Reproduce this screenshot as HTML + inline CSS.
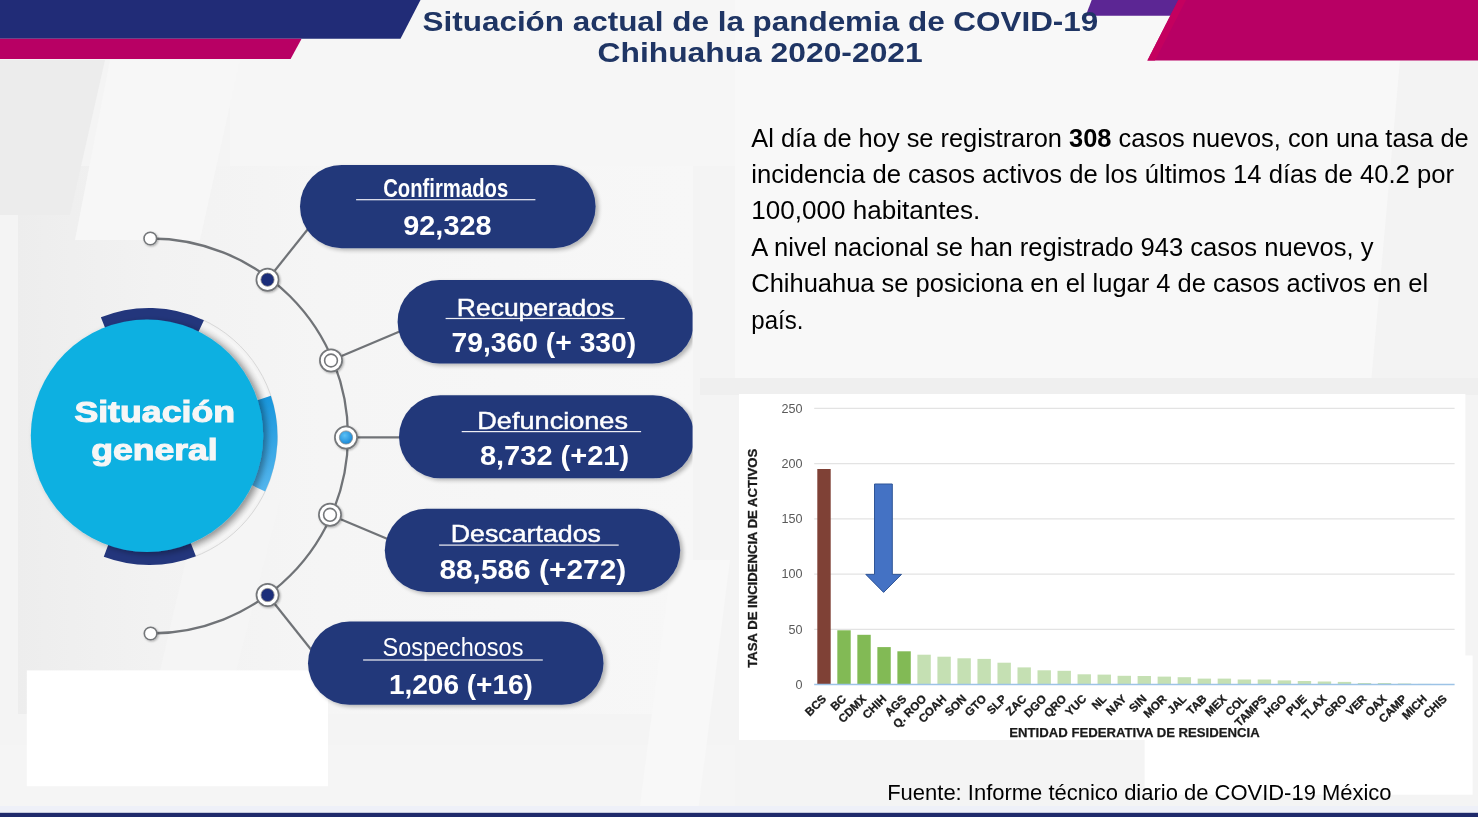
<!DOCTYPE html>
<html lang="es"><head><meta charset="utf-8"><title>Situación actual de la pandemia de COVID-19 Chihuahua 2020-2021</title>
<style>
html,body{margin:0;padding:0;background:#f3f3f3;}
body{width:1478px;height:817px;overflow:hidden;position:relative;font-family:"Liberation Sans",sans-serif;}
svg{position:absolute;left:0;top:0;display:block;}
text{font-family:"Liberation Sans",sans-serif;}
.b{font-weight:bold;}
</style></head><body>
<svg width="1478" height="817" viewBox="0 0 1478 817">
<defs>
<filter id="sh" x="-10%" y="-20%" width="125%" height="150%"><feGaussianBlur in="SourceAlpha" stdDeviation="2"/><feOffset dx="2.5" dy="1.5"/><feComponentTransfer><feFuncA type="linear" slope="0.28"/></feComponentTransfer><feMerge><feMergeNode/><feMergeNode in="SourceGraphic"/></feMerge></filter>
<filter id="sh2" x="-20%" y="-20%" width="140%" height="140%"><feGaussianBlur in="SourceAlpha" stdDeviation="3"/><feOffset dx="4" dy="2"/><feComponentTransfer><feFuncA type="linear" slope="0.35"/></feComponentTransfer><feMerge><feMergeNode/><feMergeNode in="SourceGraphic"/></feMerge></filter>
<filter id="ns" x="-30%" y="-30%" width="160%" height="160%"><feGaussianBlur in="SourceAlpha" stdDeviation="1"/><feOffset dx="1" dy="1"/><feComponentTransfer><feFuncA type="linear" slope="0.3"/></feComponentTransfer><feMerge><feMergeNode/><feMergeNode in="SourceGraphic"/></feMerge></filter>
<radialGradient id="lb" cx="0.4" cy="0.35" r="0.7"><stop offset="0" stop-color="#5cc0f5"/><stop offset="1" stop-color="#1585d6"/></radialGradient>
<linearGradient id="bg" x1="0" y1="0" x2="1" y2="0"><stop offset="0" stop-color="#efefef"/><stop offset="0.45" stop-color="#f3f3f3"/><stop offset="0.6" stop-color="#f8f8f8"/><stop offset="1" stop-color="#f6f6f6"/></linearGradient>
<linearGradient id="ig" x1="0" y1="0" x2="1" y2="0"><stop offset="0" stop-color="#ededed"/><stop offset="0.2" stop-color="#f2f2f2"/><stop offset="0.45" stop-color="#f5f5f5"/><stop offset="1" stop-color="#f7f7f7"/></linearGradient>
<radialGradient id="rg" gradientUnits="userSpaceOnUse" cx="149" cy="436.5" r="128.5"><stop offset="0.9" stop-color="#e2e2e2"/><stop offset="0.97" stop-color="#f6f6f6"/><stop offset="1" stop-color="#f1f1f1"/></radialGradient>
<linearGradient id="seg" x1="0" y1="0" x2="0" y2="1"><stop offset="0" stop-color="#1796dc"/><stop offset="1" stop-color="#55b6ee"/></linearGradient>
</defs>

<rect width="1478" height="817" fill="#f4f4f4"/>
<rect x="735" y="0" width="743" height="380" fill="#f8f8f8"/>
<rect x="230" y="0" width="505" height="166" fill="#f6f6f6"/>
<rect x="18" y="166" width="675" height="548" fill="url(#ig)"/>
<rect x="0" y="745" width="735" height="68" fill="#f5f5f5"/>
<polygon points="0,60 105,60 70,215 0,215" fill="#ececec"/>
<polygon points="110,60 240,60 200,240 75,240" fill="#f7f7f7"/>
<polygon points="200,500 280,500 225,714 150,714" fill="#f5f5f5"/>
<polygon points="672,560 730,560 698,812 639,812" fill="#f8f8f8"/>
<polygon points="1400,60 1478,60 1478,394 1370,394" fill="#f3f3f3"/>
<rect x="700" y="378" width="778" height="17" fill="#efefef"/>
<rect x="0" y="806" width="1478" height="7" fill="#eef0f8"/>
<polygon points="0,0 420.5,0 400.5,38.7 0,38.7" fill="#212c77"/>
<polygon points="0,38.7 301.6,38.7 290.6,59 0,59" fill="#b80064"/>
<polygon points="1091.7,0 1200,0 1200,15.7 1085.7,15.7" fill="#5c2694"/>
<polygon points="1178.3,0 1478,0 1478,60.6 1147.4,60.6" fill="#b80064"/><polygon points="1178.3,0 1186,0 1155,60.6 1147.4,60.6" fill="#c4005f"/>
<rect x="0" y="812.8" width="1478" height="4.2" fill="#1f2a6b"/>
<text class="b" x="422.6" y="31.4" font-size="27" fill="#1f3564" textLength="675.7" lengthAdjust="spacingAndGlyphs">Situación actual de la pandemia de COVID-19</text>
<text class="b" x="597.5" y="62.2" font-size="27" fill="#1f3564" textLength="325.2" lengthAdjust="spacingAndGlyphs">Chihuahua 2020-2021</text>
<text x="751.3" y="146.9" font-size="25.2" fill="#000" textLength="717.4" lengthAdjust="spacingAndGlyphs">Al día de hoy se registraron <tspan class="b">308</tspan> casos nuevos, con una tasa de</text>
<text x="751.3" y="182.7" font-size="25.2" fill="#000" textLength="702.7" lengthAdjust="spacingAndGlyphs">incidencia de casos activos de los últimos 14 días de 40.2 por</text>
<text x="751.3" y="219.1" font-size="25.2" fill="#000" textLength="228.9" lengthAdjust="spacingAndGlyphs">100,000 habitantes.</text>
<text x="751.3" y="255.9" font-size="25.2" fill="#000" textLength="622.3" lengthAdjust="spacingAndGlyphs">A nivel nacional se han registrado 943 casos nuevos, y</text>
<text x="751.3" y="292.4" font-size="25.2" fill="#000" textLength="676.9" lengthAdjust="spacingAndGlyphs">Chihuahua se posiciona en el lugar 4 de casos activos en el</text>
<text x="751.3" y="328.8" font-size="25.2" fill="#000" textLength="52.1" lengthAdjust="spacingAndGlyphs">país.</text>
<rect x="26.8" y="670.4" width="301.2" height="115.8" fill="#fff"/>
<path d="M150.3,238.5 A196,196 0 0 1 150.6,633.5" fill="none" stroke="#707377" stroke-width="2.3"/>
<line x1="267.5" y1="279.7" x2="308" y2="229" stroke="#707377" stroke-width="2.2"/>
<line x1="331" y1="360.5" x2="402" y2="330.5" stroke="#707377" stroke-width="2.2"/>
<line x1="346" y1="437.3" x2="402" y2="437.3" stroke="#707377" stroke-width="2.2"/>
<line x1="330" y1="514.8" x2="390" y2="540" stroke="#707377" stroke-width="2.2"/>
<line x1="267.6" y1="595" x2="313" y2="652" stroke="#707377" stroke-width="2.2"/>
<circle cx="150.3" cy="238.5" r="6.3" fill="#fff" stroke="#74777a" stroke-width="1.6" filter="url(#ns)"/>
<circle cx="150.6" cy="633.5" r="6.3" fill="#fff" stroke="#74777a" stroke-width="1.6" filter="url(#ns)"/>
<g filter="url(#ns)"><circle cx="267.5" cy="279.7" r="11.1" fill="#fff" stroke="#74777a" stroke-width="1.7"/>
<circle cx="267.5" cy="279.7" r="6.6" fill="#1f2d7a" stroke="#8a8a8a" stroke-width="0.8"/>
</g>
<g filter="url(#ns)"><circle cx="331" cy="360.5" r="11.1" fill="#fff" stroke="#74777a" stroke-width="1.7"/>
<circle cx="331" cy="360.5" r="6.4" fill="#fff" stroke="#74777a" stroke-width="1.6"/>
</g>
<g filter="url(#ns)"><circle cx="346" cy="437.5" r="11.1" fill="#fff" stroke="#74777a" stroke-width="1.7"/>
<circle cx="346" cy="437.5" r="6.6" fill="url(#lb)" stroke="#8a8a8a" stroke-width="0.8"/>
</g>
<g filter="url(#ns)"><circle cx="330" cy="514.8" r="11.1" fill="#fff" stroke="#74777a" stroke-width="1.7"/>
<circle cx="330" cy="514.8" r="6.4" fill="#fff" stroke="#74777a" stroke-width="1.6"/>
</g>
<g filter="url(#ns)"><circle cx="267.6" cy="595" r="11.1" fill="#fff" stroke="#74777a" stroke-width="1.7"/>
<circle cx="267.6" cy="595" r="6.6" fill="#1f2d7a" stroke="#8a8a8a" stroke-width="0.8"/>
</g>
<path d="M201.27,319.11 A128.5,128.5 0 0 1 192.95,557.25 L187.31,541.75 A112,112 0 0 0 194.55,334.18 Z" fill="url(#rg)"/>
<path d="M201.27,319.11 A128.5,128.5 0 0 1 192.95,557.25" fill="none" stroke="#d8d8d8" stroke-width="1"/>
<path d="M100.86,317.36 A128.5,128.5 0 0 1 203.92,320.33 L196.86,335.24 A112,112 0 0 0 107.04,332.66 Z" fill="#23367c"/>
<path d="M195.89,556.14 A128.5,128.5 0 0 1 103.79,556.78 L109.59,541.34 A112,112 0 0 0 189.87,540.78 Z" fill="#23367c"/>
<path d="M270.86,395.73 A128.5,128.5 0 0 1 265.17,491.42 L250.26,484.36 A112,112 0 0 0 255.21,400.96 Z" fill="url(#seg)"/>
<g filter="url(#sh2)">
<circle cx="147" cy="435.7" r="116.2" fill="#10b0e1"/>
</g>
<text class="b" x="74.4" y="422.2" font-size="30" fill="#f6f6f6" stroke="#f6f6f6" stroke-width="1.1" textLength="160.6" lengthAdjust="spacingAndGlyphs">Situación</text>
<text class="b" x="91.2" y="459.9" font-size="30" fill="#f6f6f6" stroke="#f6f6f6" stroke-width="1.1" textLength="126.5" lengthAdjust="spacingAndGlyphs">general</text>
<g><rect x="300" y="164.9" width="295.6" height="83.3" rx="41.65" fill="#22387a" filter="url(#sh)"/></g>
<rect x="356.1" y="199.1" width="179.3" height="1.2" fill="#eeeef4"/>
<text x="383.2" y="197.3" font-size="26" font-weight="bold" fill="#fff" textLength="125.0" lengthAdjust="spacingAndGlyphs">Confirmados</text>
<text class="b" x="403.3" y="235" font-size="28" fill="#fff" textLength="88.2" lengthAdjust="spacingAndGlyphs">92,328</text>
<clipPath id="cp280"><rect x="0" y="270" width="692.6" height="113.5"/></clipPath>
<g clip-path="url(#cp280)"><rect x="397.6" y="280" width="296.4" height="83.5" rx="41.75" fill="#22387a" filter="url(#sh)"/></g>
<rect x="445.6" y="317.9" width="179.1" height="1.2" fill="#eeeef4"/>
<text x="456.8" y="315.9" font-size="23.9" font-weight="normal" fill="#fff" stroke="#fff" stroke-width="0.45" textLength="157.5" lengthAdjust="spacingAndGlyphs">Recuperados</text>
<text class="b" x="451.6" y="352" font-size="28" fill="#fff" textLength="184.6" lengthAdjust="spacingAndGlyphs">79,360 (+ 330)</text>
<clipPath id="cp395"><rect x="0" y="385.3" width="692.6" height="113"/></clipPath>
<g clip-path="url(#cp395)"><rect x="399" y="395.3" width="295.5" height="83" rx="41.5" fill="#22387a" filter="url(#sh)"/></g>
<rect x="461.7" y="431.0" width="179.4" height="1.2" fill="#eeeef4"/>
<text x="477.3" y="429" font-size="23.9" font-weight="normal" fill="#fff" stroke="#fff" stroke-width="0.45" textLength="150.7" lengthAdjust="spacingAndGlyphs">Defunciones</text>
<text class="b" x="479.9" y="465.2" font-size="28" fill="#fff" textLength="149.3" lengthAdjust="spacingAndGlyphs">8,732 (+21)</text>
<g><rect x="384.8" y="508.7" width="295.4" height="83.2" rx="41.6" fill="#22387a" filter="url(#sh)"/></g>
<rect x="439.1" y="544.5" width="179.6" height="1.2" fill="#eeeef4"/>
<text x="450.8" y="542" font-size="23.9" font-weight="normal" fill="#fff" stroke="#fff" stroke-width="0.45" textLength="150.1" lengthAdjust="spacingAndGlyphs">Descartados</text>
<text class="b" x="439.4" y="579.2" font-size="28" fill="#fff" textLength="186.8" lengthAdjust="spacingAndGlyphs">88,586 (+272)</text>
<g><rect x="308" y="621.6" width="295.5" height="83.2" rx="41.6" fill="#22387a" filter="url(#sh)"/></g>
<rect x="363.1" y="659.4" width="179.7" height="1.2" fill="#eeeef4"/>
<text x="382.5" y="655.6" font-size="25.4" font-weight="normal" fill="#fff" textLength="140.9" lengthAdjust="spacingAndGlyphs">Sospechosos</text>
<text class="b" x="389" y="694" font-size="28" fill="#fff" textLength="143.8" lengthAdjust="spacingAndGlyphs">1,206 (+16)</text>
<rect x="739" y="394" width="726.4" height="346" fill="#fff"/>
<rect x="1144.6" y="655.5" width="328" height="139.2" fill="#fff"/>
<line x1="814.2" y1="629.4" x2="1454.6" y2="629.4" stroke="#e3e3e3" stroke-width="1.1"/>
<line x1="814.2" y1="574.1" x2="1454.6" y2="574.1" stroke="#e3e3e3" stroke-width="1.1"/>
<line x1="814.2" y1="518.9" x2="1454.6" y2="518.9" stroke="#e3e3e3" stroke-width="1.1"/>
<line x1="814.2" y1="463.6" x2="1454.6" y2="463.6" stroke="#e3e3e3" stroke-width="1.1"/>
<line x1="814.2" y1="408.4" x2="1454.6" y2="408.4" stroke="#e3e3e3" stroke-width="1.1"/>
<text x="802.5" y="688.9" font-size="12.6" fill="#5a5a5a" text-anchor="end">0</text>
<text x="802.5" y="633.6" font-size="12.6" fill="#5a5a5a" text-anchor="end">50</text>
<text x="802.5" y="578.4" font-size="12.6" fill="#5a5a5a" text-anchor="end">100</text>
<text x="802.5" y="523.1" font-size="12.6" fill="#5a5a5a" text-anchor="end">150</text>
<text x="802.5" y="467.9" font-size="12.6" fill="#5a5a5a" text-anchor="end">200</text>
<text x="802.5" y="412.7" font-size="12.6" fill="#5a5a5a" text-anchor="end">250</text>
<rect x="817.30" y="469.0" width="13.4" height="215.6" fill="#7f4136"/>
<text class="b" transform="translate(827.0,699.5) rotate(-45)" font-size="11.5" fill="#1a1a1a" stroke="#1a1a1a" stroke-width="0.3" text-anchor="end">BCS</text>
<rect x="837.32" y="630.3" width="13.4" height="54.3" fill="#82ba55"/>
<text class="b" transform="translate(847.0,699.5) rotate(-45)" font-size="11.5" fill="#1a1a1a" stroke="#1a1a1a" stroke-width="0.3" text-anchor="end">BC</text>
<rect x="857.34" y="634.8" width="13.4" height="49.8" fill="#82ba55"/>
<text class="b" transform="translate(867.0,699.5) rotate(-45)" font-size="11.5" fill="#1a1a1a" stroke="#1a1a1a" stroke-width="0.3" text-anchor="end">CDMX</text>
<rect x="877.36" y="647.1" width="13.4" height="37.5" fill="#82ba55"/>
<text class="b" transform="translate(887.1,699.5) rotate(-45)" font-size="11.5" fill="#1a1a1a" stroke="#1a1a1a" stroke-width="0.3" text-anchor="end">CHIH</text>
<rect x="897.38" y="651.3" width="13.4" height="33.3" fill="#82ba55"/>
<text class="b" transform="translate(907.1,699.5) rotate(-45)" font-size="11.5" fill="#1a1a1a" stroke="#1a1a1a" stroke-width="0.3" text-anchor="end">AGS</text>
<rect x="917.39" y="654.7" width="13.4" height="29.9" fill="#c5e0b3"/>
<text class="b" transform="translate(927.1,699.5) rotate(-45)" font-size="11.5" fill="#1a1a1a" stroke="#1a1a1a" stroke-width="0.3" text-anchor="end">Q. ROO</text>
<rect x="937.41" y="656.7" width="13.4" height="27.9" fill="#c5e0b3"/>
<text class="b" transform="translate(947.1,699.5) rotate(-45)" font-size="11.5" fill="#1a1a1a" stroke="#1a1a1a" stroke-width="0.3" text-anchor="end">COAH</text>
<rect x="957.43" y="658.3" width="13.4" height="26.3" fill="#c5e0b3"/>
<text class="b" transform="translate(967.1,699.5) rotate(-45)" font-size="11.5" fill="#1a1a1a" stroke="#1a1a1a" stroke-width="0.3" text-anchor="end">SON</text>
<rect x="977.45" y="658.9" width="13.4" height="25.7" fill="#c5e0b3"/>
<text class="b" transform="translate(987.1,699.5) rotate(-45)" font-size="11.5" fill="#1a1a1a" stroke="#1a1a1a" stroke-width="0.3" text-anchor="end">GTO</text>
<rect x="997.47" y="662.7" width="13.4" height="21.9" fill="#c5e0b3"/>
<text class="b" transform="translate(1007.2,699.5) rotate(-45)" font-size="11.5" fill="#1a1a1a" stroke="#1a1a1a" stroke-width="0.3" text-anchor="end">SLP</text>
<rect x="1017.49" y="667.4" width="13.4" height="17.2" fill="#c5e0b3"/>
<text class="b" transform="translate(1027.2,699.5) rotate(-45)" font-size="11.5" fill="#1a1a1a" stroke="#1a1a1a" stroke-width="0.3" text-anchor="end">ZAC</text>
<rect x="1037.51" y="670.3" width="13.4" height="14.3" fill="#c5e0b3"/>
<text class="b" transform="translate(1047.2,699.5) rotate(-45)" font-size="11.5" fill="#1a1a1a" stroke="#1a1a1a" stroke-width="0.3" text-anchor="end">DGO</text>
<rect x="1057.52" y="670.8" width="13.4" height="13.8" fill="#c5e0b3"/>
<text class="b" transform="translate(1067.2,699.5) rotate(-45)" font-size="11.5" fill="#1a1a1a" stroke="#1a1a1a" stroke-width="0.3" text-anchor="end">QRO</text>
<rect x="1077.54" y="674.3" width="13.4" height="10.3" fill="#c5e0b3"/>
<text class="b" transform="translate(1087.2,699.5) rotate(-45)" font-size="11.5" fill="#1a1a1a" stroke="#1a1a1a" stroke-width="0.3" text-anchor="end">YUC</text>
<rect x="1097.56" y="674.6" width="13.4" height="10.0" fill="#c5e0b3"/>
<text class="b" transform="translate(1107.3,699.5) rotate(-45)" font-size="11.5" fill="#1a1a1a" stroke="#1a1a1a" stroke-width="0.3" text-anchor="end">NL</text>
<rect x="1117.58" y="675.8" width="13.4" height="8.8" fill="#c5e0b3"/>
<text class="b" transform="translate(1127.3,699.5) rotate(-45)" font-size="11.5" fill="#1a1a1a" stroke="#1a1a1a" stroke-width="0.3" text-anchor="end">NAY</text>
<rect x="1137.60" y="676.0" width="13.4" height="8.6" fill="#c5e0b3"/>
<text class="b" transform="translate(1147.3,699.5) rotate(-45)" font-size="11.5" fill="#1a1a1a" stroke="#1a1a1a" stroke-width="0.3" text-anchor="end">SIN</text>
<rect x="1157.62" y="676.6" width="13.4" height="8.0" fill="#c5e0b3"/>
<text class="b" transform="translate(1167.3,699.5) rotate(-45)" font-size="11.5" fill="#1a1a1a" stroke="#1a1a1a" stroke-width="0.3" text-anchor="end">MOR</text>
<rect x="1177.64" y="677.2" width="13.4" height="7.4" fill="#c5e0b3"/>
<text class="b" transform="translate(1187.3,699.5) rotate(-45)" font-size="11.5" fill="#1a1a1a" stroke="#1a1a1a" stroke-width="0.3" text-anchor="end">JAL</text>
<rect x="1197.66" y="678.6" width="13.4" height="6.0" fill="#c5e0b3"/>
<text class="b" transform="translate(1207.4,699.5) rotate(-45)" font-size="11.5" fill="#1a1a1a" stroke="#1a1a1a" stroke-width="0.3" text-anchor="end">TAB</text>
<rect x="1217.67" y="678.6" width="13.4" height="6.0" fill="#c5e0b3"/>
<text class="b" transform="translate(1227.4,699.5) rotate(-45)" font-size="11.5" fill="#1a1a1a" stroke="#1a1a1a" stroke-width="0.3" text-anchor="end">MEX</text>
<rect x="1237.69" y="679.5" width="13.4" height="5.1" fill="#c5e0b3"/>
<text class="b" transform="translate(1247.4,699.5) rotate(-45)" font-size="11.5" fill="#1a1a1a" stroke="#1a1a1a" stroke-width="0.3" text-anchor="end">COL</text>
<rect x="1257.71" y="679.5" width="13.4" height="5.1" fill="#c5e0b3"/>
<text class="b" transform="translate(1267.4,699.5) rotate(-45)" font-size="11.5" fill="#1a1a1a" stroke="#1a1a1a" stroke-width="0.3" text-anchor="end">TAMPS</text>
<rect x="1277.73" y="680.4" width="13.4" height="4.2" fill="#c5e0b3"/>
<text class="b" transform="translate(1287.4,699.5) rotate(-45)" font-size="11.5" fill="#1a1a1a" stroke="#1a1a1a" stroke-width="0.3" text-anchor="end">HGO</text>
<rect x="1297.75" y="681.0" width="13.4" height="3.6" fill="#c5e0b3"/>
<text class="b" transform="translate(1307.5,699.5) rotate(-45)" font-size="11.5" fill="#1a1a1a" stroke="#1a1a1a" stroke-width="0.3" text-anchor="end">PUE</text>
<rect x="1317.77" y="681.5" width="13.4" height="3.1" fill="#c5e0b3"/>
<text class="b" transform="translate(1327.5,699.5) rotate(-45)" font-size="11.5" fill="#1a1a1a" stroke="#1a1a1a" stroke-width="0.3" text-anchor="end">TLAX</text>
<rect x="1337.79" y="681.9" width="13.4" height="2.7" fill="#c5e0b3"/>
<text class="b" transform="translate(1347.5,699.5) rotate(-45)" font-size="11.5" fill="#1a1a1a" stroke="#1a1a1a" stroke-width="0.3" text-anchor="end">GRO</text>
<rect x="1357.81" y="683.0" width="13.4" height="1.6" fill="#c5e0b3"/>
<text class="b" transform="translate(1367.5,699.5) rotate(-45)" font-size="11.5" fill="#1a1a1a" stroke="#1a1a1a" stroke-width="0.3" text-anchor="end">VER</text>
<rect x="1377.82" y="683.0" width="13.4" height="1.6" fill="#c5e0b3"/>
<text class="b" transform="translate(1387.5,699.5) rotate(-45)" font-size="11.5" fill="#1a1a1a" stroke="#1a1a1a" stroke-width="0.3" text-anchor="end">OAX</text>
<rect x="1397.84" y="683.5" width="13.4" height="1.1" fill="#c5e0b3"/>
<text class="b" transform="translate(1407.5,699.5) rotate(-45)" font-size="11.5" fill="#1a1a1a" stroke="#1a1a1a" stroke-width="0.3" text-anchor="end">CAMP</text>
<rect x="1417.86" y="683.9" width="13.4" height="0.7" fill="#c5e0b3"/>
<text class="b" transform="translate(1427.6,699.5) rotate(-45)" font-size="11.5" fill="#1a1a1a" stroke="#1a1a1a" stroke-width="0.3" text-anchor="end">MICH</text>
<rect x="1437.88" y="684.4" width="13.4" height="0.2" fill="#c5e0b3"/>
<text class="b" transform="translate(1447.6,699.5) rotate(-45)" font-size="11.5" fill="#1a1a1a" stroke="#1a1a1a" stroke-width="0.3" text-anchor="end">CHIS</text>
<line x1="814.2" y1="684.6" x2="1454.6" y2="684.6" stroke="#9dc3e6" stroke-width="1.5"/>
<polygon points="874.5,484 892.3,484 892.3,574.4 901.5,574.4 883.6,592.4 865.8,574.4 874.5,574.4" fill="#4472c4" stroke="#2f5597" stroke-width="1"/>
<text class="b" transform="translate(757.3,558.2) rotate(-90)" font-size="12" fill="#1a1a1a" stroke="#1a1a1a" stroke-width="0.3" text-anchor="middle" textLength="219" lengthAdjust="spacingAndGlyphs">TASA DE INCIDENCIA DE ACTIVOS</text>
<text class="b" x="1009.3" y="736.9" font-size="12.5" fill="#1a1a1a" stroke="#1a1a1a" stroke-width="0.25" textLength="250.4" lengthAdjust="spacingAndGlyphs">ENTIDAD FEDERATIVA DE RESIDENCIA</text>
<text x="887.2" y="800.3" font-size="22" fill="#000" textLength="504.4" lengthAdjust="spacingAndGlyphs">Fuente: Informe técnico diario de COVID-19 México</text>
</svg></body></html>
